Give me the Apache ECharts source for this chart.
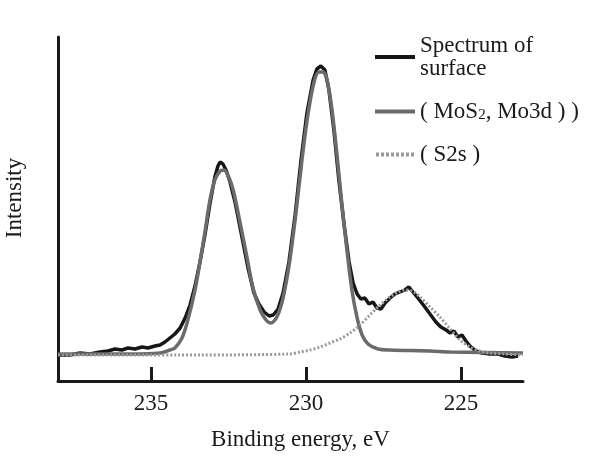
<!DOCTYPE html>
<html>
<head>
<meta charset="utf-8">
<script src="https://cdn.jsdelivr.net/npm/echarts@6/dist/echarts.min.js"></script>
<style>
  html, body { margin: 0; padding: 0; background: #fff; }
  #chart { width: 596px; height: 456px; }
</style>
</head>
<body>
<div id="chart"></div>
<script>
// binding energy (eV) and intensity (arb. units)
var surfaceEnergy = [238.00, 237.61, 237.29, 236.97, 236.65, 236.39, 236.16, 235.94, 235.74, 235.52,
  235.29, 235.10, 234.87, 234.71, 234.55, 234.39, 234.23, 234.06, 233.90, 233.74,
  233.58, 233.42, 233.26, 233.10, 232.94, 232.84, 232.77, 232.68, 232.58, 232.45,
  232.29, 232.06, 231.87, 231.68, 231.52, 231.35, 231.19, 231.06, 230.90, 230.74,
  230.55, 230.35, 230.16, 229.97, 229.77, 229.65, 229.52, 229.39, 229.26, 229.10,
  228.94, 228.77, 228.61, 228.48, 228.35, 228.23, 228.10, 227.97, 227.84, 227.71,
  227.58, 227.45, 227.29, 227.13, 226.97, 226.81, 226.68, 226.55, 226.39, 226.19,
  226.00, 225.81, 225.65, 225.48, 225.35, 225.23, 225.10, 224.97, 224.84, 224.71,
  224.52, 224.32, 224.06, 223.81, 223.58, 223.35, 223.16];
var surfaceIntensity = [0, 0, 2, 1, 3, 4, 6, 5, 7, 6,
  8, 7, 9, 10, 13, 17, 21, 27, 37, 50,
  69, 93, 120, 151, 178, 189, 193, 191, 185, 173,
  153, 117, 87, 62, 51, 43, 39, 40, 46, 62,
  93, 140, 195, 242, 275, 286, 289, 285, 265, 225,
  175, 130, 93, 72, 61, 56, 57, 51, 53, 47,
  46, 52, 57, 61, 63, 65, 68, 63, 57, 49,
  41, 33, 28, 25, 22, 24, 18, 20, 14, 9,
  4, 2, 1, 1, -1, -2, -1];

var moEnergy = [238.00, 235.68, 234.71, 234.39, 234.23, 234.00, 233.81, 233.58, 233.42, 233.26,
  233.10, 232.94, 232.77, 232.65, 232.52, 232.35, 232.13, 231.90, 231.71, 231.48,
  231.29, 231.13, 230.94, 230.74, 230.52, 230.32, 230.13, 229.94, 229.74, 229.58,
  229.45, 229.32, 229.16, 229.00, 228.84, 228.68, 228.52, 228.35, 228.19, 228.00,
  227.68, 227.29, 226.00, 225.35, 223.00];
var moIntensity = [1, 1, 2, 5, 7, 17, 35, 65, 93, 123,
  155, 175, 184, 185, 180, 165, 133, 97, 67, 45,
  35, 32, 38, 57, 95, 143, 195, 240, 273, 283,
  283, 275, 245, 200, 150, 105, 65, 37, 20, 11,
  6, 5, 4, 3, 2];

var s2sEnergy = [238.00, 233.42, 230.52, 230.19, 229.87, 229.55, 229.23, 228.90, 228.58, 228.26,
  227.94, 227.61, 227.29, 227.03, 226.81, 226.58, 226.32, 226.00, 225.68, 225.35,
  225.03, 224.71, 224.39, 224.06, 223.58, 223.00];
var s2sIntensity = [0, 0, 1, 3, 5, 8, 12, 16, 22, 30,
  40, 50, 58, 63, 65, 64, 58, 48, 38, 26,
  15, 8, 4, 2, 1, 0];

var tickValues = [235, 230, 225];
var seriesNames = ['Spectrum of\nsurface', '( MoS{sub|2}, Mo3d ) )', '( S2s )'];

function pairs(xs, ys) {
  return xs.map(function (x, i) { return [x, ys[i]]; });
}

var font = 'Liberation Serif';
var solidIcon = 'path://M0,0H40V4H0Z';
var dotIcon = 'path://M0,0H3V4H0Z M5,0H8V4H5Z M10,0H13V4H10Z M15,0H18V4H15Z M20,0H23V4H20Z M25,0H28V4H25Z M30,0H33V4H30Z M35,0H38V4H35Z';

var chart = echarts.init(document.getElementById('chart'), null, { renderer: 'canvas' });

var option = {
  backgroundColor: '#fff',
  animation: false,
  grid: { left: 58, right: 73, top: 37, bottom: 75, outerBoundsMode: 'none', containLabel: false },
  legend: {
    orient: 'vertical',
    left: 370,
    top: 29,
    itemGap: 20,
    itemWidth: 40,
    itemHeight: 4,
    data: [
      { name: seriesNames[0], icon: solidIcon },
      { name: seriesNames[1], icon: solidIcon },
      { name: seriesNames[2], icon: dotIcon }
    ],
    textStyle: {
      fontFamily: font,
      fontSize: 23,
      color: '#1a1a1a',
      lineHeight: 23,
      rich: {
        sub: { fontFamily: font, fontSize: 15, lineHeight: 7, verticalAlign: 'bottom' }
      }
    }
  },
  xAxis: {
    type: 'value',
    inverse: true,
    min: 223,
    max: 238,
    name: 'Binding energy, eV',
    nameLocation: 'middle',
    nameGap: 47,
    nameTextStyle: { fontFamily: font, fontSize: 23, color: '#1a1a1a', padding: [0, 0, 0, 20] },
    splitLine: { show: false },
    axisLine: { onZero: false, lineStyle: { color: '#1a1a1a', width: 3 } },
    axisTick: { inside: true, length: 14, customValues: tickValues, lineStyle: { color: '#1a1a1a', width: 3 } },
    axisLabel: { customValues: tickValues, margin: 11, fontFamily: font, fontSize: 23, color: '#1a1a1a' }
  },
  yAxis: {
    type: 'value',
    min: -26,
    max: 318,
    name: 'Intensity',
    nameLocation: 'middle',
    nameRotate: 90,
    nameGap: 32,
    nameTextStyle: { fontFamily: font, fontSize: 23, color: '#1a1a1a', padding: [0, 0, 0, 22] },
    splitLine: { show: false },
    axisLine: { show: true, onZero: false, lineStyle: { color: '#1a1a1a', width: 3 } },
    axisTick: { show: false },
    axisLabel: { show: false }
  },
  series: [
    {
      name: seriesNames[0],
      type: 'line',
      symbol: 'none',
      data: pairs(surfaceEnergy, surfaceIntensity),
      lineStyle: { color: '#161616', width: 3.5 },
      itemStyle: { color: '#161616' },
      z: 2
    },
    {
      name: seriesNames[1],
      type: 'line',
      symbol: 'none',
      smooth: 0.3,
      data: pairs(moEnergy, moIntensity),
      lineStyle: { color: '#6b6b6b', width: 3.5 },
      itemStyle: { color: '#6b6b6b' },
      z: 3
    },
    {
      name: seriesNames[2],
      type: 'line',
      symbol: 'none',
      smooth: 0.3,
      data: pairs(s2sEnergy, s2sIntensity),
      lineStyle: { color: '#9a9a9a', width: 3, type: [2, 2] },
      itemStyle: { color: '#9a9a9a' },
      z: 4
    }
  ]
};

chart.setOption(option);
</script>
</body>
</html>
